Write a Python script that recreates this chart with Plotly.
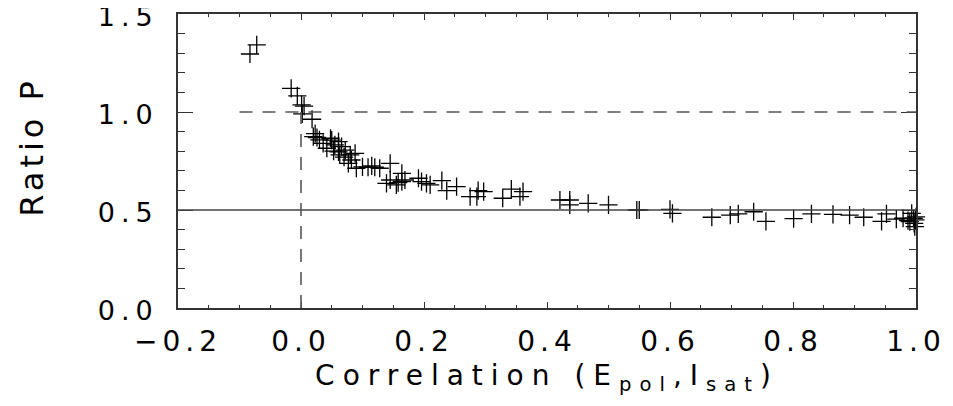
import plotly.graph_objects as go

# ---- data ----
corr = [-0.083, -0.072, -0.016, -0.006, 0.001, 0.005, 0.002, 0.018, 0.020, 0.023,
        0.026, 0.030, 0.036, 0.042, 0.048, 0.050, 0.055, 0.061, 0.053, 0.061,
        0.066, 0.063, 0.070, 0.072, 0.080, 0.088, 0.082, 0.077, 0.090, 0.100,
        0.109, 0.115, 0.120, 0.128, 0.145, 0.164, 0.139, 0.145, 0.155, 0.158,
        0.169, 0.164, 0.191, 0.196, 0.204, 0.210, 0.229, 0.237, 0.253, 0.275,
        0.286, 0.288, 0.297, 0.328, 0.342, 0.356, 0.361, 0.421, 0.437, 0.437,
        0.467, 0.500, 0.546, 0.550, 0.600, 0.604, 0.668, 0.698, 0.711, 0.736,
        0.756, 0.801, 0.830, 0.865, 0.892, 0.915, 0.944, 0.952, 0.968, 0.979,
        0.987, 0.990, 0.993, 0.996, 0.997, 0.998, 0.999, 1.000]
ratio = [1.296, 1.342, 1.121, 1.082, 1.036, 1.030, 0.990, 0.963, 0.874, 0.890,
         0.870, 0.858, 0.840, 0.815, 0.866, 0.857, 0.832, 0.849, 0.800, 0.797,
         0.823, 0.781, 0.770, 0.805, 0.781, 0.789, 0.755, 0.738, 0.713, 0.720,
         0.718, 0.725, 0.718, 0.713, 0.738, 0.687, 0.636, 0.653, 0.628, 0.640,
         0.653, 0.645, 0.662, 0.645, 0.636, 0.628, 0.650, 0.599, 0.619, 0.568,
         0.568, 0.599, 0.594, 0.560, 0.606, 0.568, 0.594, 0.551, 0.551, 0.526,
         0.534, 0.526, 0.500, 0.500, 0.503, 0.483, 0.463, 0.474, 0.480, 0.491,
         0.442, 0.456, 0.480, 0.478, 0.474, 0.463, 0.442, 0.480, 0.453, 0.458,
         0.446, 0.441, 0.483, 0.458, 0.432, 0.415, 0.450, 0.465]

x_tickvals = [-0.2, 0.0, 0.2, 0.4, 0.6, 0.8, 1.0]
x_ticktext = ["\u22120.2", "0.0", "0.2", "0.4", "0.6", "0.8", "1.0"]
y_tickvals = [0.0, 0.5, 1.0, 1.5]
y_ticktext = ["0.0", "0.5", "1.0", "1.5"]

x_title = "Correlation (E<sub>pol</sub>,I<sub>sat</sub>)"
y_title = "Ratio P"

ref_dashed_y = 1.0        # horizontal dashed reference level
ref_dashed_x0 = -0.1      # where the dashed level starts
ref_solid_y = 0.5         # horizontal solid reference level
ref_vert_x = 0.0          # vertical dashed reference at zero correlation
ref_vert_top = 1.0

FONT = "DejaVu Sans"


def spaced(s, px=5):
    return '<span style="letter-spacing:%dpx">%s</span>' % (px, s)


fig = go.Figure()
fig.add_trace(go.Scatter(
    x=corr, y=ratio, mode="markers",
    marker=dict(symbol="cross-thin", size=13, color="black",
                line=dict(color="black", width=1.3)),
    showlegend=False, cliponaxis=False))

line_col = "#555555"
fig.add_shape(type="line", xref="x", yref="y", x0=ref_dashed_x0, x1=1.0,
              y0=ref_dashed_y, y1=ref_dashed_y,
              line=dict(color=line_col, width=1.6, dash="13px,10px"))
fig.add_shape(type="line", xref="x", yref="y", x0=-0.2, x1=1.0,
              y0=ref_solid_y, y1=ref_solid_y,
              line=dict(color="#444444", width=1.4))
fig.add_shape(type="line", xref="x", yref="y", x0=ref_vert_x, x1=ref_vert_x,
              y0=0.0, y1=ref_vert_top,
              line=dict(color=line_col, width=1.6, dash="13px,10px"))

axis_col = "#333333"
fig.update_xaxes(
    range=[-0.2, 1.0], showgrid=False, zeroline=False, automargin=False,
    showline=True, linecolor=axis_col, linewidth=1.6, mirror="allticks",
    ticks="inside", ticklen=6, tickwidth=1.4, tickcolor=axis_col,
    tickvals=x_tickvals, ticktext=[spaced(t, 5) for t in x_ticktext],
    minor=dict(dtick=0.05, tick0=0.0, ticks="inside", ticklen=3,
               tickwidth=1.2, tickcolor=axis_col, showgrid=False),
    tickfont=dict(family=FONT, size=28, color="black"),
    ticklabelstandoff=8, ticklabeloverflow="allow",
    title=dict(text=spaced(x_title, 8),
               font=dict(family=FONT, size=28, color="black"), standoff=8),
)
fig.update_yaxes(
    range=[0.0, 1.5], showgrid=False, zeroline=False, automargin=False,
    showline=True, linecolor=axis_col, linewidth=1.6, mirror="allticks",
    ticks="inside", ticklen=15, tickwidth=1.4, tickcolor=axis_col,
    tickvals=y_tickvals, ticktext=[spaced(t, 6) for t in y_ticktext],
    minor=dict(dtick=0.1, tick0=0.0, ticks="inside", ticklen=7,
               tickwidth=1.2, tickcolor=axis_col, showgrid=False),
    tickfont=dict(family=FONT, size=27, color="black"),
    ticklabelstandoff=12, ticklabeloverflow="allow", ticklabelshift=3,
)
# y-axis title placed as a rotated annotation centred on the plot height
fig.add_annotation(
    text=spaced(y_title, 4), xref="paper", yref="paper",
    x=-0.198, y=0.548, xanchor="center", yanchor="middle",
    textangle=-90, showarrow=False,
    font=dict(family=FONT, size=32, color="black"))

# the page body adds an 8px offset, so the figure is sized to fit the window
fig.update_layout(
    template="none",
    width=945, height=398,
    margin=dict(l=170, r=37, t=6, b=98),
    paper_bgcolor="white", plot_bgcolor="white",
)
fig.write_html("out.html")
